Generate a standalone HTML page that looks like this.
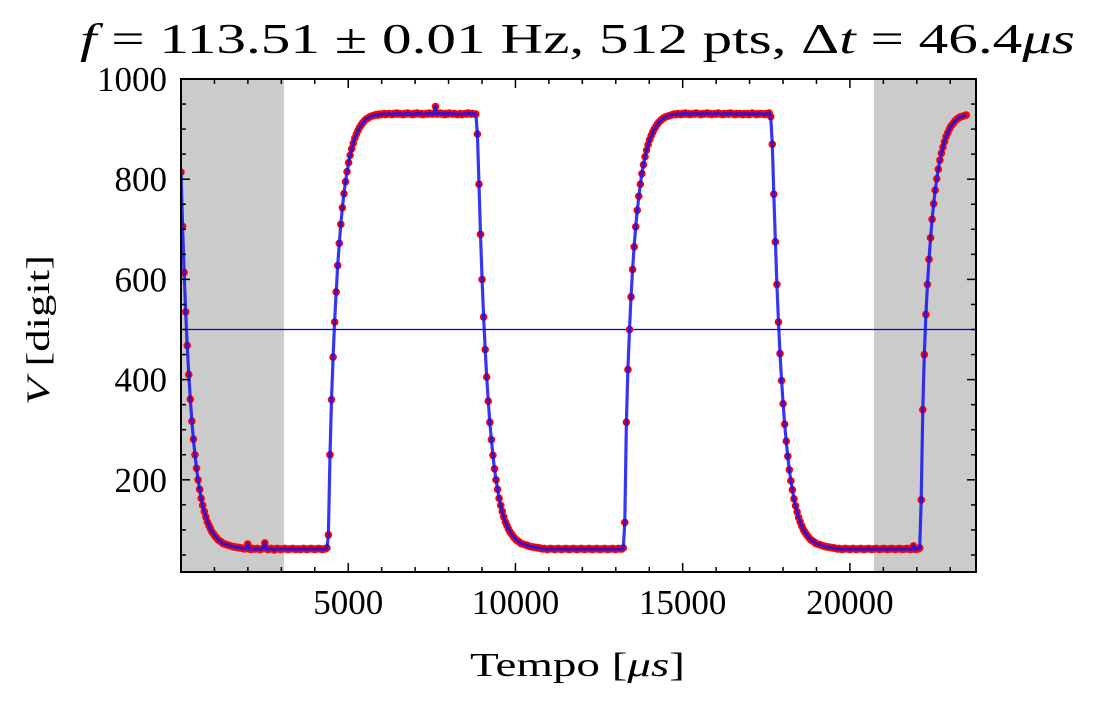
<!DOCTYPE html>
<html><head><meta charset="utf-8">
<style>
html,body{margin:0;padding:0;background:#fff;}
svg{display:block;font-family:"Liberation Serif","DejaVu Serif",serif;}
</style></head>
<body>
<svg id="chart" width="1093" height="705" viewBox="0 0 1093 705" xmlns="http://www.w3.org/2000/svg">
<text x="80" y="53" font-size="42" textLength="995" lengthAdjust="spacingAndGlyphs"><tspan font-style="italic">f</tspan> = 113.51 ± 0.01 Hz, 512 pts, Δ<tspan font-style="italic">t</tspan> = 46.4<tspan font-style="italic">μs</tspan></text>
<text transform="translate(49,405) rotate(-90)" font-size="33" textLength="150" lengthAdjust="spacingAndGlyphs"><tspan font-style="italic">V</tspan> [digit]</text>
<text x="470" y="676" font-size="34" textLength="215" lengthAdjust="spacingAndGlyphs">Tempo [<tspan font-style="italic">μs</tspan>]</text>
<g id="plot"></g>
</svg>
<script>
const dt = 46.4;
const voltage = [
814,706,614,535,468,410,361,317,281,250,
223,200,181,163,149,137,126,116,109,102,
96,92,87,84,80,78,76,73,72,71,
70,69,68,67,66,66,65,65,64,64,
63,62,63,72,62,61,63,62,62,63,
62,61,62,63,74,62,61,62,63,62,
60,62,63,62,61,62,62,63,62,61,
62,62,63,62,61,62,62,61,62,63,
62,61,62,62,63,62,61,62,62,63,
62,61,62,62,
64,90,250,360,445,515,575,628,672,710,
743,771,795,815,833,848,861,872,882,890,
897,903,908,912,916,919,921,923,925,926,
927,928,929,928,930,929,930,931,929,930,
931,930,929,931,930,932,930,931,930,929,
931,930,932,931,930,929,931,930,932,931,
930,931,929,930,931,930,932,931,930,931,
945,930,931,932,930,931,929,931,930,932,
931,930,931,930,929,930,931,929,930,
931,930,932,931,930,931,930,
930,890,790,690,600,525,460,405,357,315,
280,249,222,200,181,163,149,137,126,116,
109,102,96,92,87,84,80,78,76,73,
72,71,70,69,68,67,66,66,65,65,
64,64,63,62,63,62,61,62,63,62,
62,61,62,63,62,61,62,62,63,62,
61,62,62,63,62,61,62,62,63,62,
61,62,62,63,62,61,62,62,63,62,
61,62,62,63,62,61,62,62,63,62,
61,62,63,62,62,
64,115,315,420,500,565,620,665,705,738,
766,790,811,829,845,858,869,879,887,894,
900,905,910,914,917,920,922,924,925,926,
927,928,929,930,929,931,930,929,931,930,
932,930,931,929,930,931,930,932,931,930,
929,931,930,931,932,930,931,929,930,931,
930,932,931,930,929,931,930,931,930,932,
931,930,929,931,930,931,930,929,931,930,
931,929,930,932,931,930,929,931,930,
931,930,929,931,930,932,
925,870,770,675,590,515,452,398,352,311,
277,247,220,198,180,162,148,136,125,116,
108,101,96,91,87,83,80,78,76,73,
72,71,70,69,68,67,66,66,65,65,
64,64,63,62,63,62,61,62,63,62,
62,61,62,63,62,61,62,62,63,62,
61,62,62,63,62,61,62,62,63,62,
61,62,62,63,62,61,62,62,63,62,
61,62,62,63,62,61,62,62,63,62,
61,62,68,61,62,62,
64,160,340,450,530,590,640,683,720,751,
778,801,820,838,852,864,875,885,892,899,
905,909,913,917,920,922,924,925,926,927,
928
];
const xTickLabels = [5000, 10000, 15000, 20000];
const yTickLabels = [200, 400, 600, 800, 1000];
const shadeRanges = [[0, 3080], [20720, 23800]];
const thresholdValue = [500];

const L = 181, R = 976, T = 79, B = 572;
const xMin = 0, xMax = 23770, yMin = 16, yMax = 1000;
const X = v => L + (v - xMin) / (xMax - xMin) * (R - L);
const Y = v => B - (v - yMin) / (yMax - yMin) * (B - T);
const NS = "http://www.w3.org/2000/svg";
const plot = document.getElementById('plot');
function mk(tag, attrs, parent) {
  const e = document.createElementNS(NS, tag);
  for (const k in attrs) e.setAttribute(k, attrs[k]);
  (parent || plot).appendChild(e);
  return e;
}
const clip = mk('clipPath', {id: 'clip'});
mk('rect', {x: L, y: T, width: R - L, height: B - T}, clip);

shadeRanges.forEach(r => {
  const s = mk('rect', {x: X(r[0]), y: T, width: X(Math.min(r[1], xMax)) - X(r[0]), height: B - T, fill: '#cbcbcb', 'clip-path': 'url(#clip)'});
  
  
});

const h = mk('line', {x1: L, x2: R, y1: Y(thresholdValue[0]), y2: Y(thresholdValue[0]), stroke: '#0000ee', 'stroke-width': 1.3});



const gDots = mk('g', {'clip-path': 'url(#clip)'});


voltage.forEach((v, i) => {
  const c = mk('circle', {cx: X(i * dt), cy: Y(v), r: 3.8, fill: '#ff0000'}, gDots);
  
  
});

const pts = voltage.map((v, i) => X(i * dt).toFixed(1) + ',' + Y(v).toFixed(1)).join(' ');
const fit = mk('polyline', {points: pts, fill: 'none', stroke: 'rgba(20,20,240,0.85)', 'stroke-width': 3.2, 'stroke-linejoin': 'round', 'clip-path': 'url(#clip)'});



const frame = mk('rect', {x: L, y: T, width: R - L, height: B - T, fill: 'none', stroke: '#000', 'stroke-width': 2});



for (let v = 1000; v < xMax; v += 1000) {
  const major = v % 5000 === 0, len = major ? 9 : 5;
  mk('line', {x1: X(v), x2: X(v), y1: B, y2: B - len, stroke: '#000', 'stroke-width': 1.5});
  mk('line', {x1: X(v), x2: X(v), y1: T, y2: T + len, stroke: '#000', 'stroke-width': 1.5});
}
for (let v = 50; v < yMax; v += 50) {
  if (v < yMin) continue;
  const major = v % 200 === 0, len = major ? 9 : 5;
  mk('line', {x1: L, x2: L + len, y1: Y(v), y2: Y(v), stroke: '#000', 'stroke-width': 1.5});
  mk('line', {x1: R, x2: R - len, y1: Y(v), y2: Y(v), stroke: '#000', 'stroke-width': 1.5});
}
xTickLabels.forEach(v => {
  const t = mk('text', {x: X(v), y: B + 42, 'text-anchor': 'middle', 'font-size': 35});
  t.textContent = v;
  
  
});
yTickLabels.forEach(v => {
  const t = mk('text', {x: L - 14, y: Y(v) + 12, 'text-anchor': 'end', 'font-size': 35});
  t.textContent = v;
  
  
});
</script>
</body></html>
